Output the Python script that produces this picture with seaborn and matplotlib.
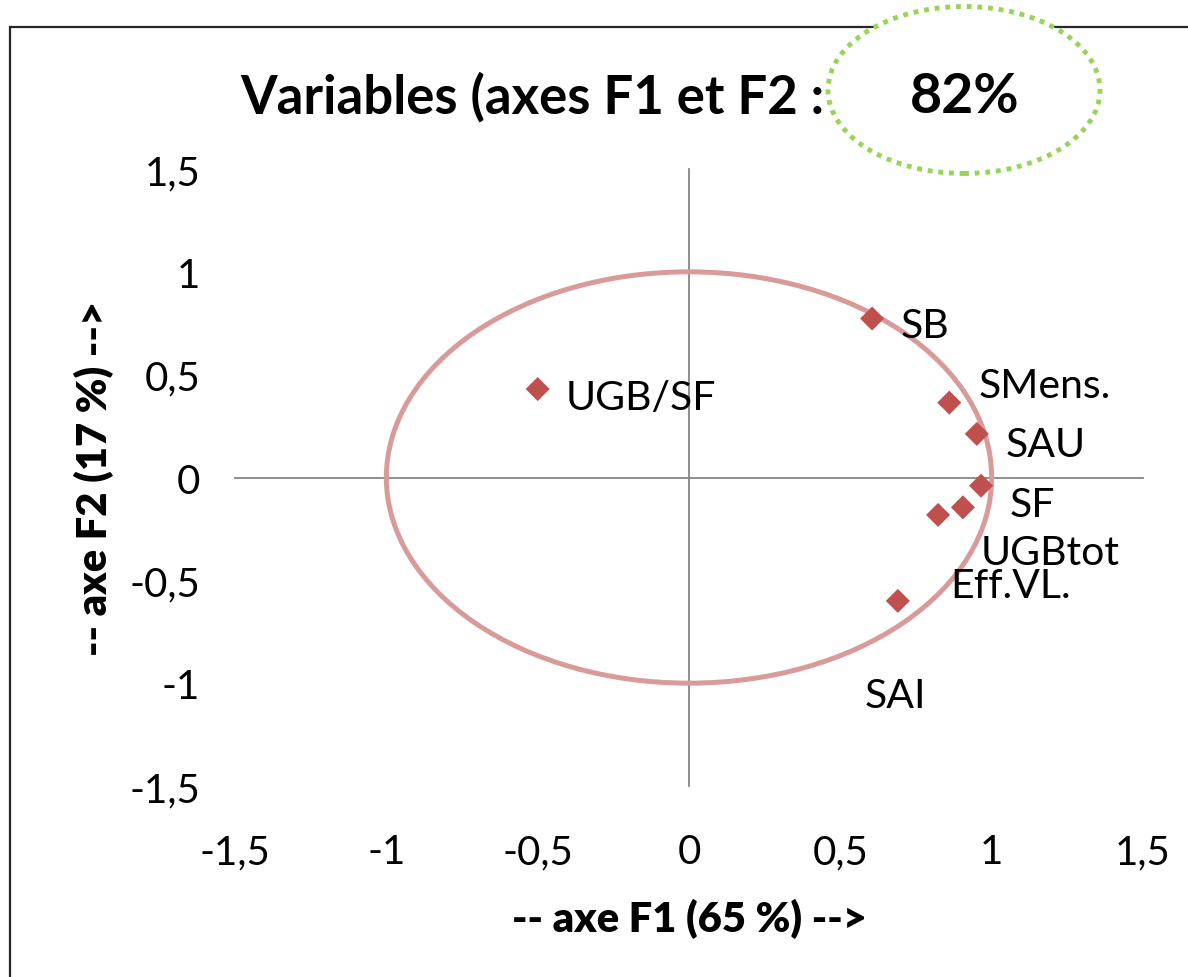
import numpy as np
import pandas as pd
import seaborn as sns
import matplotlib
matplotlib.use("Agg")
import matplotlib.pyplot as plt
from matplotlib.patches import Circle, Ellipse, Rectangle

# ---- data ----
variables = ["SB", "UGB/SF", "SMens.", "SAU", "SF", "UGBtot", "Eff.VL.", "SAI"]
f1 = [0.605, -0.50, 0.86, 0.951, 0.965, 0.905, 0.823, 0.69]
f2 = [0.773, 0.43, 0.364, 0.212, -0.04, -0.145, -0.182, -0.60]
ticks = [-1.5, -1, -0.5, 0, 0.5, 1, 1.5]
tick_labels = ["-1,5", "-1", "-0,5", "0", "0,5", "1", "1,5"]
title_text = "Variables (axes F1 et F2 :"
inertia_text = "82%"
xlabel = "-- axe F1 (65 %) -->"
ylabel = "-- axe F2 (17 %) -->"

df = pd.DataFrame({"var": variables, "F1": f1, "F2": f2})

sns.set_theme(style="white")
FONT = ["Lato", "DejaVu Sans"]
plt.rcParams["font.family"] = FONT

W, H = 1188, 978
fig = plt.figure(figsize=(W / 100, H / 100), dpi=100)

# outer frame
fig.patches.append(Rectangle((10 / W, -0.05), 1.2, (H - 28) / H + 0.05,
                             transform=fig.transFigure, fill=False,
                             edgecolor="#262626", linewidth=1.6, zorder=0))

L, R, T, B = 235, 1143, 170, 787
pos = [L / W, 1 - B / H, (R - L) / W, (B - T) / H]
ax = fig.add_axes(pos)
ax.patch.set_alpha(0)

grey = "#868686"
# correlation circle
ax.add_patch(Circle((0, 0), 1, fill=False, edgecolor="#D99B99", linewidth=3.6, zorder=2))

sns.scatterplot(data=df, x="F1", y="F2", ax=ax, marker="D", s=150,
                color="#C0504D", edgecolor="none", zorder=4, legend=False)

offsets = {"SB": (29, -7), "UGB/SF": (28, -8), "SMens.": (29, 17), "SAU": (29, -11),
           "SF": (29, -19), "UGBtot": (18, -45), "Eff.VL.": (12, -71), "SAI": (-33, -95)}
for v, x, y in zip(variables, f1, f2):
    ax.annotate(v, (x, y), xytext=offsets[v], textcoords="offset pixels",
                ha="left", va="center", fontsize=29.5, color="black", zorder=5)

ax.set_xlim(-1.5, 1.5)
ax.set_ylim(-1.5, 1.5)
ax.set_xticks(ticks)
ax.set_yticks(ticks)
ax.set_xticklabels(tick_labels)
ax.set_yticklabels(tick_labels)
ax.tick_params(axis="both", length=0, labelsize=29, colors="black")
ax.tick_params(axis="x", pad=34)
ax.tick_params(axis="y", pad=25)
for s in ax.spines.values():
    s.set_visible(False)
ax.set_xlabel(xlabel, fontsize=30, fontweight="heavy", color="black", labelpad=20)
ax.set_ylabel(ylabel, fontsize=30, fontweight="heavy", color="black", labelpad=11)

# overlay axes for center axis lines with ticks
ov = fig.add_axes(pos, sharex=ax, sharey=ax)
ov.patch.set_alpha(0)
for s in ["top", "right"]:
    ov.spines[s].set_visible(False)
for s in ["left", "bottom"]:
    ov.spines[s].set_position("zero")
    ov.spines[s].set_color(grey)
    ov.spines[s].set_linewidth(1.3)
ov.tick_params(axis="both", direction="out", length=8, width=1.3, color=grey,
               labelleft=False, labelbottom=False)
ov.set_xlabel("")
ov.set_ylabel("")
ov.grid(False)
ax.set_zorder(2)
ov.set_zorder(1)

# title
fig.text(240 / W, 1 - 97 / H, title_text, ha="left", va="center",
         fontsize=38, fontweight="bold", color="black")
fig.patches.append(Ellipse((964 / W, 1 - 91 / H), 272 / W, 167 / H,
                           transform=fig.transFigure, facecolor="white",
                           edgecolor="#98D35A", linewidth=3.5,
                           linestyle=(0, (1, 1.2)), zorder=1))
fig.text(965 / W, 1 - 97 / H, inertia_text, ha="center", va="center",
         fontsize=40, fontweight="bold", color="black", zorder=3)

fig.savefig("out.png", dpi=100)
